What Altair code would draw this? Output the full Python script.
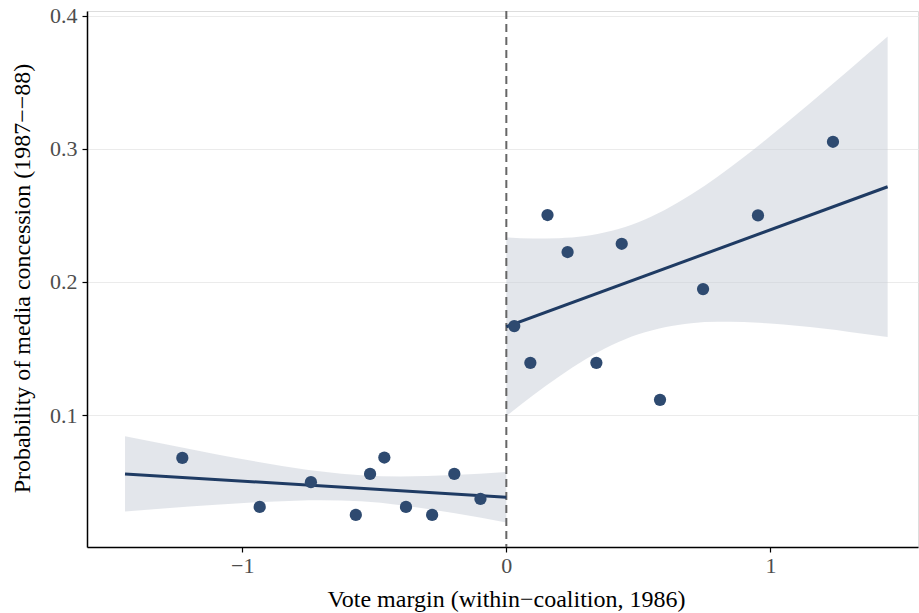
import altair as alt
import pandas as pd

# Binned observations: vote margin vs. share receiving a media concession
margin_left = [-1.227, -0.934, -0.740, -0.570, -0.516, -0.462, -0.380, -0.281, -0.197, -0.098]
prob_left = [0.0679, 0.0311, 0.0497, 0.0251, 0.0559, 0.0682, 0.0311, 0.0251, 0.0559, 0.0371]
margin_right = [0.030, 0.091, 0.156, 0.232, 0.341, 0.437, 0.582, 0.745, 0.953, 1.237]
prob_right = [0.1669, 0.1393, 0.2503, 0.2225, 0.1393, 0.2287, 0.1115, 0.1947, 0.2500, 0.3053]

# Linear fits on each side of the cutoff
fit_left_x = [-1.444, 0.0]
fit_left_y = [0.0559, 0.0384]
fit_right_x = [0.0, 1.444]
fit_right_y = [0.1664, 0.2715]

# 95% confidence bands around the fits
band_left_x = [-1.444, -1.3, -1.1, -0.9, -0.7, -0.55, -0.4, -0.2, 0.0]
band_left_lo = [0.0276, 0.0299, 0.0327, 0.0350, 0.0361, 0.0353, 0.0324, 0.0265, 0.0194]
band_left_hi = [0.0842, 0.0785, 0.0707, 0.0636, 0.0577, 0.0549, 0.0540, 0.0551, 0.0574]
band_right_x = [0.0, 0.1, 0.2, 0.3, 0.4, 0.5, 0.6, 0.7, 0.8, 0.9, 1.0, 1.1, 1.2, 1.3, 1.444]
band_right_lo = [0.0994, 0.1148, 0.1291, 0.1419, 0.1526, 0.1607, 0.1661, 0.1691, 0.1701,
                 0.1699, 0.1688, 0.1671, 0.1650, 0.1625, 0.1587]
band_right_hi = [0.2334, 0.2326, 0.2329, 0.2345, 0.2384, 0.2449, 0.2541, 0.2657, 0.2791,
                 0.2939, 0.3096, 0.3259, 0.3426, 0.3595, 0.3843]

points = pd.DataFrame({"margin": margin_left + margin_right,
                       "prob": prob_left + prob_right})
fits = pd.DataFrame({"margin": fit_left_x + fit_right_x,
                     "prob": fit_left_y + fit_right_y,
                     "side": ["left"] * len(fit_left_x) + ["right"] * len(fit_right_x)})
bands = pd.DataFrame({"margin": band_left_x + band_right_x,
                      "lo": band_left_lo + band_right_lo,
                      "hi": band_left_hi + band_right_hi,
                      "side": ["left"] * len(band_left_x) + ["right"] * len(band_right_x)})

W, H = 831, 536
x_scale = alt.Scale(domain=[-1.588, 1.559], nice=False, zero=False)
y_scale = alt.Scale(domain=[0.001, 0.4035], nice=False, zero=False)

x_axis = alt.Axis(
    values=[-1, 0, 1], format="d", grid=False,
    title="Vote margin (within\u2212coalition, 1986)",
    titleX=419, titleY=52, titleBaseline="middle", titleAlign="center",
    labelPadding=3,
)
y_axis = alt.Axis(
    values=[0.1, 0.2, 0.3, 0.4], format=".1f", grid=True,
    title="Probability of media concession (1987\u2212\u221288)",
    titleX=-65, titleY=H / 2 - 1, titleBaseline="middle", titleAlign="center",
    labelPadding=5,
)

band = alt.Chart(bands).mark_area(
    interpolate="monotone", color="#c7cdd7", opacity=0.5
).encode(
    x=alt.X("margin:Q", scale=x_scale, axis=x_axis),
    y=alt.Y("lo:Q", scale=y_scale, axis=y_axis),
    y2="hi:Q",
    detail="side:N",
)

cutoff = alt.Chart().mark_rule(
    color="#666666", strokeDash=[8, 5], strokeWidth=2
).encode(x=alt.datum(0))

fit_lines = alt.Chart(fits).mark_line(
    color="#1f3b63", strokeWidth=3
).encode(
    x="margin:Q", y="prob:Q", detail="side:N"
)

dots = alt.Chart(points).mark_circle(
    color="#2e4a70", size=150, opacity=1
).encode(x="margin:Q", y="prob:Q")

chart = alt.layer(band, cutoff, fit_lines, dots).properties(
    width=W, height=H,
    autosize=alt.AutoSizeParams(type="none"),
    padding={"left": 87, "top": 11, "right": 1, "bottom": 66},
).configure_view(stroke=None).configure(
    font="Liberation Serif"
).configure_axis(
    domainColor="black", domainWidth=1.5, tickColor="black", tickWidth=1.2, tickSize=5,
    labelFont="Liberation Serif", labelFontSize=22, labelColor="#4d4d4d",
    titleFont="Liberation Serif", titleFontSize=24, titleColor="black", titleFontWeight="normal",
    gridColor="#ebebeb", gridWidth=1,
)

chart.save("out.html", embed_options={"renderer": "svg", "actions": False})
